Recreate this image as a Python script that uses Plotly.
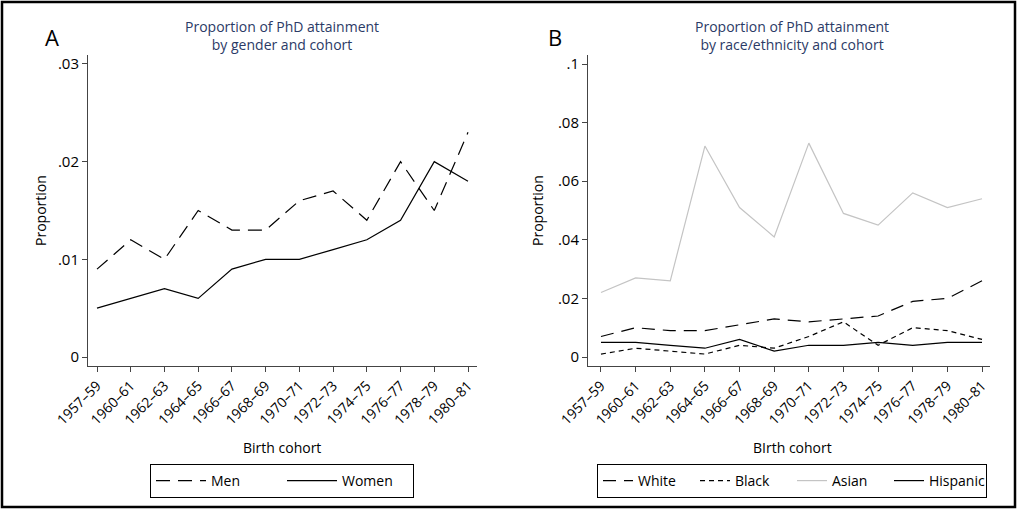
import plotly.graph_objects as go

cohorts = ["1957–59", "1960–61", "1962–63", "1964–65", "1966–67", "1968–69",
           "1970–71", "1972–73", "1974–75", "1976–77", "1978–79", "1980–81"]

men = [0.009, 0.012, 0.010, 0.015, 0.013, 0.013, 0.016, 0.017, 0.014, 0.020, 0.015, 0.023]
women = [0.005, 0.006, 0.007, 0.006, 0.009, 0.010, 0.010, 0.011, 0.012, 0.014, 0.020, 0.018]

white = [0.007, 0.010, 0.009, 0.009, 0.011, 0.013, 0.012, 0.013, 0.014, 0.019, 0.020, 0.026]
black = [0.001, 0.003, 0.002, 0.001, 0.004, 0.003, 0.007, 0.012, 0.004, 0.010, 0.009, 0.006]
asian = [0.022, 0.027, 0.026, 0.072, 0.051, 0.041, 0.073, 0.049, 0.045, 0.056, 0.051, 0.054]
hispanic = [0.005, 0.005, 0.004, 0.003, 0.006, 0.002, 0.004, 0.004, 0.005, 0.004, 0.005, 0.005]

yticks_a = [0, 0.01, 0.02, 0.03]
yticktext_a = ["0", ".01", ".02", ".03"]
yticks_b = [0, 0.02, 0.04, 0.06, 0.08, 0.1]
yticktext_b = ["0", ".02", ".04", ".06", ".08", ".1"]

FONT = "Open Sans"
W, H = 1019, 511

fig = go.Figure()

fig.add_trace(go.Scatter(x=cohorts, y=men, name="Men", mode="lines",
                         line=dict(color="black", width=1.2, dash="14px,8px"),
                         xaxis="x", yaxis="y", legend="legend"))
fig.add_trace(go.Scatter(x=cohorts, y=women, name="Women", mode="lines",
                         line=dict(color="black", width=1.2),
                         xaxis="x", yaxis="y", legend="legend"))

fig.add_trace(go.Scatter(x=cohorts, y=white, name="White", mode="lines",
                         line=dict(color="black", width=1.2, dash="13px,8px"),
                         xaxis="x2", yaxis="y2", legend="legend2"))
fig.add_trace(go.Scatter(x=cohorts, y=black, name="Black", mode="lines",
                         line=dict(color="black", width=1.2, dash="5px,4px"),
                         xaxis="x2", yaxis="y2", legend="legend2"))
fig.add_trace(go.Scatter(x=cohorts, y=asian, name="Asian", mode="lines",
                         line=dict(color="#c4c4c4", width=1.2),
                         xaxis="x2", yaxis="y2", legend="legend2"))
fig.add_trace(go.Scatter(x=cohorts, y=hispanic, name="Hispanic", mode="lines",
                         line=dict(color="black", width=1.2),
                         xaxis="x2", yaxis="y2", legend="legend2"))

ydom = [1 - 366 / H, 1 - 55 / H]
axis_common = dict(showgrid=False, zeroline=False, showline=True, linecolor="#444",
                   linewidth=1, ticks="outside", ticklen=5, tickcolor="#444",
                   automargin=False,
                   tickfont=dict(family=FONT, size=14, color="black"))

xa = dict(axis_common, domain=[88 / W, 477 / W], type="category",
          range=[-0.267, 11.267], tickangle=-45, anchor="y")
xb = dict(axis_common, domain=[588 / W, 990 / W], type="category",
          range=[-0.375, 11.23], tickangle=-45, anchor="y2")
ya = dict(axis_common, domain=ydom, range=[-0.00092, 0.03092],
          tickvals=yticks_a, ticktext=yticktext_a, anchor="x")
yb = dict(axis_common, domain=ydom, range=[-0.00307, 0.10307],
          tickvals=yticks_b, ticktext=yticktext_b, anchor="x2")
ya["tickfont"] = dict(family=FONT, size=15, color="black")
yb["tickfont"] = dict(family=FONT, size=15, color="black")

title_color = "#2b3a66"
annotations = [
    dict(text="A", x=52 / W, y=1 - 37 / H, font=dict(family=FONT, size=22, color="black")),
    dict(text="B", x=555 / W, y=1 - 37 / H, font=dict(family=FONT, size=22, color="black")),
    dict(text="Proportion of PhD attainment<br>by gender and cohort", x=282 / W, y=1 - 35 / H,
         font=dict(family=FONT, size=14, color=title_color)),
    dict(text="Proportion of PhD attainment<br>by race/ethnicity and cohort", x=792 / W, y=1 - 35 / H,
         font=dict(family=FONT, size=14, color=title_color)),
    dict(text="Proportion", x=40 / W, y=1 - 211 / H, textangle=-90,
         font=dict(family=FONT, size=14, color="black")),
    dict(text="Proportion", x=537 / W, y=1 - 211 / H, textangle=-90,
         font=dict(family=FONT, size=14, color="black")),
    dict(text="Birth cohort", x=282 / W, y=1 - 447 / H,
         font=dict(family=FONT, size=14, color="black")),
    dict(text="BIrth cohort", x=792 / W, y=1 - 447 / H,
         font=dict(family=FONT, size=14, color="black")),
]
for a in annotations:
    a.update(xref="paper", yref="paper", showarrow=False, xanchor="center", yanchor="middle")

legend_common = dict(orientation="h", bordercolor="black", borderwidth=1,
                     bgcolor="white", font=dict(family=FONT, size=14, color="black"),
                     xanchor="left", yanchor="top", y=1 - 464 / H,
                     entrywidthmode="pixels")

fig.update_layout(
    width=W, height=H,
    margin=dict(l=0, r=0, t=0, b=0, autoexpand=False),
    paper_bgcolor="white", plot_bgcolor="white",
    xaxis=xa, yaxis=ya, xaxis2=xb, yaxis2=yb,
    annotations=annotations,
    legend=dict(legend_common, x=150 / W, itemwidth=50, entrywidth=66),
    legend2=dict(legend_common, x=597 / W, itemwidth=30, entrywidth=52),
    shapes=[dict(type="rect", xref="paper", yref="paper", x0=2 / W, x1=1015 / W,
                 y0=1 - 507 / H, y1=1 - 2 / H, line=dict(color="black", width=2.5))],
    showlegend=True,
)

fig.write_html("out.html")
